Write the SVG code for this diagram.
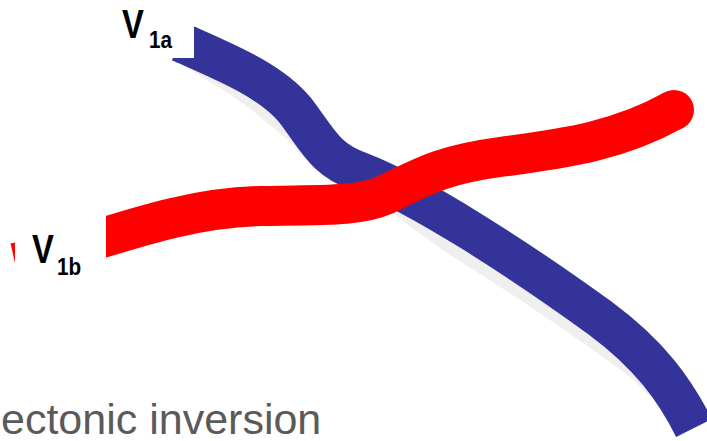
<svg xmlns="http://www.w3.org/2000/svg" width="707" height="441" viewBox="0 0 707 441">
  <style>
    .band { fill: none; stroke-width: 40; stroke-linecap: butt; stroke-linejoin: round; }
    .blue { stroke: #333399; }
    .red { stroke: #ff0000; }
    .shadow { fill: #efefef; }
    .mask { fill: #ffffff; }
    .lbl { font-family: "Liberation Sans", Arial, sans-serif; font-weight: bold; fill: #000000; }
    .caption { font-family: "Liberation Sans", Arial, sans-serif; font-size: 43px; fill: #5a5a5a; }
  </style>

  <rect width="707" height="441" fill="#ffffff"/>

  <!-- fault V1a: blue band with its soft ground shadow -->
  <g id="fault-v1a">
    <path class="shadow" d="M175,61 C185,66 192,70 200,76 C215,85 245,103 260,117 C272,127 287,138 295,148 L305,160 L310,150 C300,130 285,115 270,104 C240,88 200,70 175,58 Z"/>
    <path class="shadow" d="M385,208 C400,218 425,238 450,255 C490,280 540,312 600,355 C620,369 638,382 650,397 L655,385 C620,350 560,310 500,270 C450,238 410,212 390,200 Z"/>
    <path class="band blue" d="M180,42 C225,62 270,80 295,110 C318,140 325,160 360,172 C420,195 520,260 600,318 C650,355 675,390 694,428"/>
  </g>

  <!-- fault V1b: red band, drawn over V1a -->
  <g id="fault-v1b">
    <path class="band red" d="M15,263 C90,246 170,208 260,206 C330,205 360,206 385,195 C420,178 440,165 500,157 C570,148 620,140 674,110"/>
    <circle cx="674" cy="110" r="20" fill="#ff0000"/>
  </g>

  <!-- label V1a -->
  <g id="label-v1a">
    <rect class="mask" x="110" y="0" width="84" height="58"/>
    <text class="lbl" font-size="40" transform="translate(122,38) scale(0.82,1)">V</text>
    <text class="lbl" font-size="23" transform="translate(149,48) scale(0.9,1)">1a</text>
  </g>

  <!-- label V1b -->
  <g id="label-v1b">
    <rect class="mask" x="15" y="190" width="91" height="110"/>
    <text class="lbl" font-size="40" transform="translate(32,263) scale(0.82,1)">V</text>
    <text class="lbl" font-size="23" transform="translate(57,275) scale(0.9,1)">1b</text>
  </g>

  <text class="caption" x="1" y="434">ectonic inversion</text>
</svg>
